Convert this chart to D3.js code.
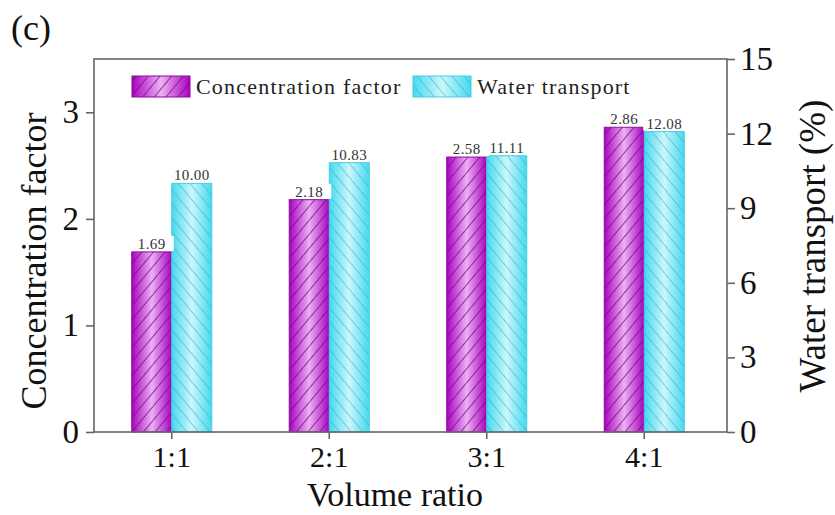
<!DOCTYPE html>
<html>
<head>
<meta charset="utf-8">
<script src="https://cdn.jsdelivr.net/npm/d3@7"></script>
<style>
  html, body { margin: 0; padding: 0; background: #fff; }
  svg { display: block; }
  text { font-family: "Liberation Serif", "Times New Roman", serif; }
</style>
</head>
<body>
<svg id="chart" width="835" height="515"></svg>
<script>
// Volume ratio experiment: concentration factor (left axis) and water transport (right axis)
const categories = ["1:1", "2:1", "3:1", "4:1"];
const concentrationFactor = [1.69, 2.18, 2.58, 2.86];
const waterTransport = [10.00, 10.83, 11.11, 12.08];
const leftTicks = [0, 1, 2, 3];
const rightTicks = [0, 3, 6, 9, 12, 15];

const plot = { left: 94, right: 727, top: 59, bottom: 432 };
const barW = 40;
const serif = "'Liberation Serif', 'Times New Roman', serif";

const svg = d3.select("#chart");
const defs = svg.append("defs");

// horizontal shading gradients for the bars
function shade(id, edge, mid) {
  const g = defs.append("linearGradient").attr("id", id)
    .attr("x1", "0%").attr("x2", "100%").attr("y1", "0%").attr("y2", "0%");
  g.append("stop").attr("offset", "0%").attr("stop-color", edge);
  g.append("stop").attr("offset", "50%").attr("stop-color", mid);
  g.append("stop").attr("offset", "100%").attr("stop-color", edge);
}
shade("gradPurple", "#a802bc", "#eab2f2");
shade("gradCyan", "#45d9ee", "#cdf6fb");

// diagonal hatch patterns
function hatch(id, angle, color, width) {
  const p = defs.append("pattern").attr("id", id)
    .attr("patternUnits", "userSpaceOnUse")
    .attr("width", 9).attr("height", 9)
    .attr("patternTransform", `rotate(${angle})`);
  p.append("line").attr("x1", 0).attr("y1", 0).attr("x2", 0).attr("y2", 9)
    .attr("stroke", color).attr("stroke-width", width);
}
hatch("hatchPurple", 40, "rgba(130,0,150,0.75)", 2);
hatch("hatchCyan", -40, "rgba(40,170,200,0.5)", 2);

const x = d3.scaleBand().domain(categories).range([93, 723]);
const yL = d3.scaleLinear().domain([0, 3.5]).range([plot.bottom, plot.top]);
const yR = d3.scaleLinear().domain([0, 15]).range([plot.bottom, plot.top]);
const cx = c => x(c) + x.bandwidth() / 2;

const series = [
  { values: concentrationFactor, scale: yL, offset: -barW, grad: "gradPurple", hatch: "hatchPurple", stroke: "#8a0a9c" },
  { values: waterTransport, scale: yR, offset: 0, grad: "gradCyan", hatch: "hatchCyan", stroke: "#45cde2" }
];

// bars
series.forEach(s => {
  const g = svg.append("g");
  categories.forEach((c, i) => {
    const v = s.values[i];
    const bx = cx(c) + s.offset, by = s.scale(v), bh = s.scale(0) - s.scale(v);
    g.append("rect").attr("x", bx).attr("y", by).attr("width", barW).attr("height", bh)
      .attr("fill", `url(#${s.grad})`);
    g.append("rect").attr("x", bx).attr("y", by).attr("width", barW).attr("height", bh)
      .attr("fill", `url(#${s.hatch})`).attr("stroke", s.stroke).attr("stroke-width", 1);
  });
});

// value labels on white tags
series.forEach(s => {
  categories.forEach((c, i) => {
    const v = s.values[i];
    const tx = cx(c) + s.offset + barW / 2;
    const top = s.scale(v);
    svg.append("rect").attr("x", tx - barW / 2 - 1).attr("y", top - 16)
      .attr("width", barW + 3).attr("height", 15).attr("fill", "#fff");
    svg.append("text").attr("x", tx).attr("y", top - 3)
      .attr("text-anchor", "middle").attr("font-size", 15).attr("letter-spacing", 0.4)
      .attr("fill", "#333").text(v.toFixed(2));
  });
});

// frame
svg.append("rect").attr("x", plot.left).attr("y", plot.top)
  .attr("width", plot.right - plot.left).attr("height", plot.bottom - plot.top)
  .attr("fill", "none").attr("stroke", "#666").attr("stroke-width", 1.6);

// axes
const axisStyle = size => g => {
  g.select(".domain").remove();
  g.selectAll(".tick line").attr("stroke", "#666").attr("stroke-width", 1.6);
  g.selectAll(".tick text").attr("fill", "#111")
    .style("font-family", serif).attr("font-size", size);
};
svg.append("g").attr("transform", `translate(${plot.left},0)`)
  .call(d3.axisLeft(yL).tickValues(leftTicks).tickSize(8).tickPadding(7).tickFormat(d3.format("d")))
  .call(axisStyle(33));
svg.append("g").attr("transform", `translate(${plot.right},0)`)
  .call(d3.axisRight(yR).tickValues(rightTicks).tickSize(8).tickPadding(5).tickFormat(d3.format("d")))
  .call(axisStyle(33));
svg.append("g").attr("transform", `translate(0,${plot.bottom})`)
  .call(d3.axisBottom(x).tickSize(7).tickPadding(7))
  .call(axisStyle(30));

// axis titles
svg.append("text").attr("x", 395).attr("y", 506).attr("text-anchor", "middle")
  .attr("font-size", 34).attr("fill", "#111").text("Volume ratio");
svg.append("text").attr("transform", `translate(46,261) rotate(-90)`)
  .attr("text-anchor", "middle").attr("font-size", 36).attr("fill", "#111").text("Concentration factor");
svg.append("text").attr("transform", `translate(825,246) rotate(-90)`)
  .attr("text-anchor", "middle").attr("font-size", 37).attr("fill", "#111").text("Water transport (%)");

// panel tag
svg.append("text").attr("x", 11).attr("y", 40).attr("font-size", 36)
  .attr("fill", "#111").text("(c)");

// legend
const legend = [
  { label: "Concentration factor", grad: "gradPurple", hatch: "hatchPurple", stroke: "#8a0a9c", x: 132 },
  { label: "Water transport", grad: "gradCyan", hatch: "hatchCyan", stroke: "#45cde2", x: 413 }
];
legend.forEach(l => {
  svg.append("rect").attr("x", l.x).attr("y", 76).attr("width", 58).attr("height", 21)
    .attr("fill", `url(#${l.grad})`);
  svg.append("rect").attr("x", l.x).attr("y", 76).attr("width", 58).attr("height", 21)
    .attr("fill", `url(#${l.hatch})`).attr("stroke", l.stroke).attr("stroke-width", 1);
  svg.append("text").attr("x", l.x + 64).attr("y", 94).attr("font-size", 22)
    .attr("letter-spacing", 1.2).attr("fill", "#222").text(l.label);
});
</script>
</body>
</html>
